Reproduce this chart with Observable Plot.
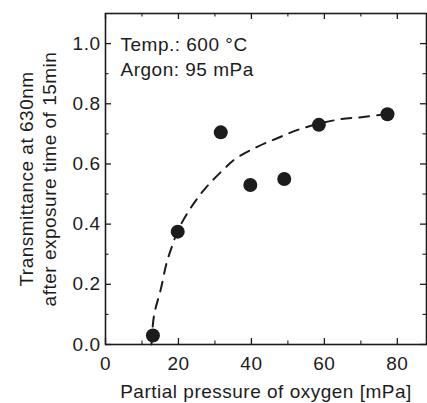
<!DOCTYPE html>
<html><head><meta charset="utf-8">
<script src="https://cdn.jsdelivr.net/npm/d3@7"></script>
<script src="https://cdn.jsdelivr.net/npm/@observablehq/plot@0.6"></script>
<style>
body{margin:0;background:#fff;}
</style></head><body><div id="chart"></div>
<script>
const pressure = [13.0, 19.8, 31.6, 39.7, 49.0, 58.5, 77.3];
const transmittance = [0.03, 0.375, 0.705, 0.53, 0.55, 0.73, 0.765];
const fitPressure = [12.6, 13.3, 15.2, 16.8, 18.5, 19.8, 23.2, 27.3, 32.8, 35.6, 41.6, 47.4, 53.4, 64.4, 70.7, 77.3];
const fitTransmittance = [0.0, 0.096, 0.186, 0.273, 0.335, 0.378, 0.451, 0.518, 0.587, 0.617, 0.657, 0.687, 0.716, 0.749, 0.756, 0.766];
const xTicks = [0, 20, 40, 60, 80];
const xMinor = [10, 30, 50, 70];
const yTicks = [0, 0.2, 0.4, 0.6, 0.8, 1.0];
const yMinor = [0.1, 0.3, 0.5, 0.7, 0.9];
const xLabel = "Partial pressure of oxygen [mPa]";
const yLabel = "Transmittance at 630nm\nafter exposure time of 15min";
const note = "Temp.: 600 °C\nArgon: 95 mPa";

const W = 427, H = 403, mt = 13, mb = 59, ml = 105, mr = 1;
const pw = W - ml - mr, ph = H - mt - mb;
const points = pressure.map((x, i) => ({x, y: transmittance[i]}));
const fit = fitPressure.map((x, i) => ({x, y: fitTransmittance[i]}));
const ink = "#1c1c1c";

const chart = Plot.plot({
  width: W, height: H,
  marginLeft: ml, marginRight: mr, marginTop: mt, marginBottom: mb,
  style: {fontFamily: "'Liberation Sans', Arial, sans-serif", fontSize: "19px", letterSpacing: "0.5px", color: ink, background: "#fff"},
  x: {domain: [0, 88]},
  y: {domain: [0, 1.1]},
  marks: [
    Plot.frame({stroke: ink, strokeWidth: 1.6}),
    // inward ticks: bottom, top, left, right
    Plot.tickX(xTicks, {x: d => d, insetTop: ph - 6, stroke: ink, strokeWidth: 1.3}),
    Plot.tickX(xMinor, {x: d => d, insetTop: ph - 3.5, stroke: ink, strokeWidth: 1.1}),
    Plot.tickX(xTicks, {x: d => d, insetBottom: ph - 6, stroke: ink, strokeWidth: 1.3}),
    Plot.tickX(xMinor, {x: d => d, insetBottom: ph - 3.5, stroke: ink, strokeWidth: 1.1}),
    Plot.tickY(yTicks, {y: d => d, insetRight: pw - 6, stroke: ink, strokeWidth: 1.3}),
    Plot.tickY(yMinor, {y: d => d, insetRight: pw - 3.5, stroke: ink, strokeWidth: 1.1}),
    Plot.tickY(yTicks, {y: d => d, insetLeft: pw - 6, stroke: ink, strokeWidth: 1.3}),
    Plot.tickY(yMinor, {y: d => d, insetLeft: pw - 3.5, stroke: ink, strokeWidth: 1.1}),
    Plot.axisX(xTicks, {tickSize: 0, tickPadding: 12, label: null}),
    Plot.axisY(yTicks, {tickSize: 0, tickPadding: 5, tickFormat: d3.format(".1f"), label: null}),
    Plot.line(fit, {x: "x", y: "y", curve: "catmull-rom", stroke: ink, strokeWidth: 2, strokeDasharray: "10,8"}),
    Plot.dot(points, {x: "x", y: "y", r: 7, fill: ink, stroke: "none"}),
    Plot.text([note], {frameAnchor: "top-left", dx: 15, dy: 20, text: d => d, textAnchor: "start", lineAnchor: "top", lineHeight: 1.32, fill: ink}),
    Plot.text([xLabel], {frameAnchor: "bottom", dy: 47, text: d => d, textAnchor: "middle", lineAnchor: "middle", fill: ink}),
    Plot.text([yLabel], {frameAnchor: "left", dx: -68, rotate: -90, text: d => d, textAnchor: "middle", lineAnchor: "middle", lineHeight: 1.21, fill: ink})
  ]
});
document.getElementById("chart").appendChild(chart);
</script></body></html>
